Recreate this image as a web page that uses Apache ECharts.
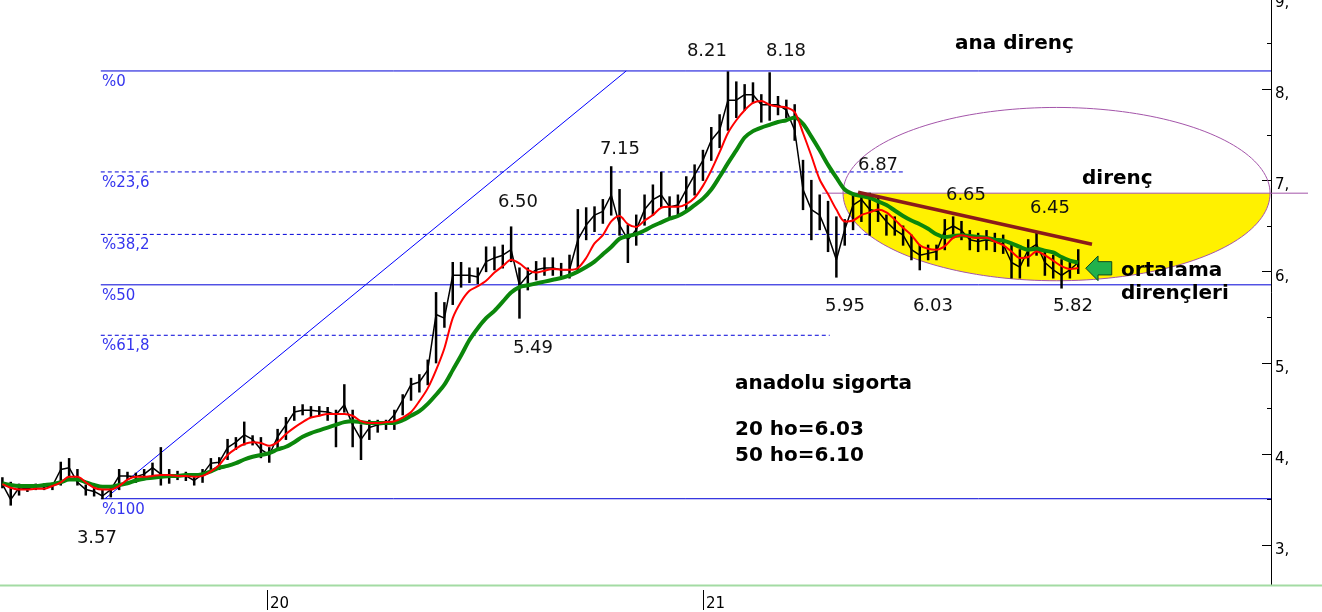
<!DOCTYPE html>
<html><head><meta charset="utf-8">
<script src="https://cdn.jsdelivr.net/npm/echarts@6/dist/echarts.min.js"></script>
<style>html,body{margin:0;padding:0;background:#fff}#c{width:1322px;height:612px}</style>
</head><body><div id="c"></div>
<script>
// ---- data (weekly samples) ----
const weekStart = [2019, 4, 24];           // first weekly sample (Fri 24 May 2019)
const priceHigh = [
3.74,3.69,3.67,3.66,3.67,3.67,3.68,3.91,3.95,3.83,
3.66,3.64,3.61,3.63,3.83,3.80,3.79,3.83,3.90,4.07,
3.83,3.81,3.80,3.76,3.83,3.95,3.96,4.16,4.18,4.35,
4.20,4.18,4.07,4.27,4.40,4.52,4.54,4.52,4.52,4.51,
4.48,4.76,4.48,4.32,4.37,4.37,4.37,4.48,4.65,4.83,
4.87,5.03,5.77,5.66,6.10,6.10,6.04,6.04,6.27,6.27,
6.29,6.49,6.04,6.04,6.11,6.15,6.15,6.09,6.18,6.68,
6.70,6.71,6.79,7.15,6.90,6.51,6.62,6.84,6.95,7.09,
6.82,6.84,7.04,7.17,7.33,7.58,7.72,8.19,8.08,8.05,
8.07,7.94,8.18,7.92,7.88,7.83,7.22,7.00,6.84,6.77,
6.60,6.57,6.86,6.86,6.86,6.82,6.62,6.60,6.50,6.40,
6.29,6.29,6.29,6.57,6.60,6.55,6.45,6.42,6.45,6.42,
6.40,6.29,6.24,6.35,6.43,6.24,6.18,6.13,6.10,6.24];
const priceLow = [
3.63,3.44,3.55,3.59,3.61,3.61,3.61,3.66,3.74,3.66,
3.55,3.54,3.51,3.53,3.61,3.72,3.69,3.72,3.74,3.66,
3.68,3.72,3.71,3.66,3.69,3.80,3.83,3.94,4.05,4.10,
4.10,3.96,3.91,4.07,4.16,4.37,4.43,4.41,4.42,4.37,
4.08,4.46,4.08,3.94,4.16,4.24,4.27,4.27,4.43,4.59,
4.68,4.76,5.00,5.39,5.64,5.83,5.88,5.87,6.00,6.02,
6.04,6.11,5.49,5.80,5.91,5.96,5.96,5.94,5.93,6.02,
6.35,6.44,6.53,6.62,6.40,6.10,6.29,6.51,6.62,6.71,
6.60,6.62,6.68,6.84,7.00,7.22,7.36,7.55,7.69,7.77,
7.85,7.64,7.66,7.72,7.69,7.44,6.68,6.35,6.46,6.22,
5.94,6.29,6.46,6.55,6.40,6.55,6.40,6.40,6.29,6.13,
6.02,6.13,6.13,6.24,6.37,6.35,6.24,6.22,6.24,6.22,
6.20,5.93,5.93,6.06,6.18,5.96,5.93,5.82,5.93,5.98];
const priceClose = [
3.67,3.50,3.63,3.62,3.64,3.64,3.65,3.83,3.85,3.69,
3.61,3.59,3.54,3.61,3.76,3.76,3.75,3.78,3.85,3.78,
3.75,3.76,3.76,3.71,3.78,3.90,3.91,4.07,4.13,4.21,
4.16,4.05,3.99,4.19,4.32,4.46,4.48,4.48,4.47,4.46,
4.43,4.54,4.32,4.16,4.29,4.32,4.33,4.43,4.59,4.76,
4.79,4.92,5.53,5.49,5.96,5.96,5.96,5.94,6.11,6.15,
6.18,6.24,5.85,5.96,6.02,6.04,6.04,6.02,6.02,6.35,
6.51,6.62,6.66,6.84,6.51,6.35,6.46,6.68,6.79,6.84,
6.71,6.73,6.90,7.06,7.22,7.44,7.55,7.88,7.88,7.94,
7.94,7.83,7.83,7.83,7.77,7.55,6.90,6.68,6.62,6.40,
6.13,6.46,6.73,6.79,6.68,6.66,6.55,6.46,6.40,6.24,
6.18,6.20,6.22,6.45,6.50,6.45,6.35,6.33,6.35,6.33,
6.30,6.10,6.05,6.24,6.30,6.10,6.02,5.96,6.02,6.10];
const ma20 = [
3.67,3.63,3.61,3.61,3.62,3.62,3.65,3.69,3.75,3.75,
3.69,3.63,3.61,3.61,3.65,3.72,3.75,3.75,3.76,3.77,
3.77,3.76,3.76,3.75,3.76,3.81,3.88,3.99,4.06,4.11,
4.13,4.12,4.09,4.13,4.22,4.29,4.35,4.40,4.42,4.44,
4.44,4.44,4.42,4.36,4.34,4.34,4.35,4.36,4.40,4.46,
4.58,4.72,4.92,5.16,5.49,5.67,5.79,5.84,5.90,5.99,
6.06,6.13,6.09,6.02,5.99,6.01,6.03,6.02,6.02,6.04,
6.15,6.31,6.40,6.55,6.61,6.52,6.49,6.56,6.62,6.70,
6.71,6.71,6.74,6.81,6.94,7.11,7.31,7.52,7.66,7.77,
7.85,7.87,7.83,7.81,7.80,7.75,7.52,7.27,7.01,6.85,
6.68,6.55,6.56,6.62,6.65,6.68,6.65,6.57,6.48,6.40,
6.29,6.25,6.24,6.28,6.37,6.40,6.38,6.37,6.37,6.33,
6.29,6.22,6.15,6.16,6.22,6.18,6.12,6.06,6.03,6.04];
const ma50 = [
3.68,3.66,3.65,3.65,3.65,3.66,3.67,3.69,3.72,3.72,
3.69,3.66,3.64,3.64,3.66,3.68,3.71,3.73,3.74,3.75,
3.76,3.76,3.77,3.77,3.78,3.81,3.85,3.87,3.90,3.94,
3.97,3.99,4.01,4.05,4.08,4.13,4.19,4.23,4.26,4.29,
4.32,4.35,4.36,4.35,4.34,4.34,4.34,4.34,4.37,4.42,
4.47,4.55,4.65,4.76,4.92,5.08,5.25,5.38,5.49,5.57,
5.67,5.77,5.83,5.85,5.87,5.89,5.91,5.93,5.96,6.00,
6.05,6.11,6.19,6.27,6.36,6.39,6.41,6.45,6.50,6.54,
6.58,6.61,6.66,6.73,6.80,6.90,7.04,7.19,7.33,7.47,
7.54,7.58,7.61,7.64,7.66,7.69,7.62,7.48,7.33,7.17,
7.03,6.90,6.85,6.83,6.81,6.77,6.73,6.67,6.61,6.56,
6.52,6.47,6.41,6.38,6.39,6.40,6.39,6.38,6.37,6.35,
6.34,6.31,6.27,6.24,6.25,6.23,6.21,6.16,6.12,6.10];

const yTicks = [3,4,5,6,7,8,9];
const yMinorTicks = [3.5,4.5,5.5,6.5,7.5,8.5];
const xYearTicks = [2020, 2021];
const xRange = [[2019,4,22,0], [2022,3,22,19]];

// Fibonacci retracement (levels, names, start / end in week units; null = to axis end)
const fibLevels = [8.20, 7.093, 6.408, 5.855, 5.302, 3.51];
const fibNames  = ['%0','%23,6','%38,2','%50','%61,8','%100'];
const fibDashed = [false, true, true, false, true, false];
const fibStartWeek = 11.8;
const fibEndWeek = [null, 108.0, 108.0, null, 99.2, null];
const fibLabelWeek = 11.94;
const fibDiagonal = [[12.3, 3.51], [74.8, 8.20]];
// falling resistance line
const trendLine = [[102.6, 6.87], [130.65, 6.30]];
// horizontal resistance + ellipse
const resistLevel = 6.86;
const resistStartWeek = 98.3;
const ellipseBox = {left: 100.8, right: 152.0, top: 7.80, bottom: 5.90};
const arrowTip = [129.9, 6.037];

// price notes [text, week, value]
const priceNotes = [
  ['8.21', 84.48, 8.413], ['8.18', 93.96, 8.413], ['7.15', 74.05, 7.339],
  ['6.50', 61.82, 6.758], ['5.49', 63.62, 5.157], ['3.57', 11.34, 3.073],
  ['6.87', 104.99, 7.163], ['6.65', 115.54, 6.834], ['6.45', 125.61, 6.692],
  ['5.95', 101.03, 5.617], ['6.03', 111.58, 5.617], ['5.82', 128.37, 5.617]
];
// bold notes [text, week (left edge), value]
const boldNotes = [
  ['ana direnç', 114.22, 8.497], ['direnç', 129.45, 7.016],
  ['ortalama', 134.12, 6.008], ['dirençleri', 134.12, 5.755],
  ['anadolu sigorta', 87.84, 4.769], ['20 ho=6.03', 87.84, 4.264], ['50 ho=6.10', 87.84, 3.979]
];

// ---- build ----
const DAY = 86400000, WEEK = 7 * DAY;
const t0 = Date.UTC(weekStart[0], weekStart[1], weekStart[2]);
const wt = w => t0 + w * WEEK;
const weeks = priceHigh.map((_, i) => wt(i));
const xMin = Date.UTC(...xRange[0]), xMax = Date.UTC(...xRange[1]);
const FONT = '"DejaVu Sans", Verdana, sans-serif';

const series = [];
fibLevels.forEach((lv, k) => {
  series.push({
    type: 'line', silent: true, symbol: 'none', z: 0,
    data: [[wt(fibStartWeek), lv], [fibEndWeek[k] === null ? xMax : wt(fibEndWeek[k]), lv]],
    lineStyle: {color: '#0000d8', width: 1, type: fibDashed[k] ? [4, 3] : 'solid'}
  });
});
series.push({
  type: 'line', silent: true, symbol: 'none', z: 0,
  data: fibDiagonal.map(p => [wt(p[0]), p[1]]),
  lineStyle: {color: '#0000ff', width: 1}
});
// weekly high-low bars
series.push({
  type: 'custom', silent: true, z: 3,
  data: weeks.map((t, i) => [t, priceLow[i], priceHigh[i]]),
  encode: {x: 0, y: [1, 2]},
  renderItem: (params, api) => {
    const t = api.value(0);
    const a = api.coord([t, api.value(1)]);
    const b = api.coord([t, api.value(2)]);
    return {type: 'line', shape: {x1: a[0], y1: a[1] + 0.5, x2: b[0], y2: b[1] - 0.5},
            style: {stroke: '#000', lineWidth: 2.5}};
  }
});
series.push({
  type: 'line', silent: true, symbol: 'none', z: 3,
  data: weeks.map((t, i) => [t, priceClose[i]]),
  lineStyle: {color: '#000', width: 1.5}
});
series.push({
  type: 'line', silent: true, symbol: 'none', z: 4, smooth: 0.3,
  data: weeks.map((t, i) => [t, ma50[i]]),
  lineStyle: {color: '#0b870b', width: 4}
});
series.push({
  type: 'line', silent: true, symbol: 'none', z: 4, smooth: 0.3,
  data: weeks.map((t, i) => [t, ma20[i]]),
  lineStyle: {color: '#ff0000', width: 2}
});
series.push({
  type: 'line', silent: true, symbol: 'none', z: 5,
  data: trendLine.map(p => [wt(p[0]), p[1]]),
  lineStyle: {color: '#8b1a1a', width: 3.5}
});

const yearTs = xYearTicks.map(y => Date.UTC(y, 0, 1));
const option = {
  animation: false,
  backgroundColor: '#fff',
  grid: {left: 0, right: 51, top: -2, bottom: 27, containLabel: false, outerBoundsMode: 'none'},
  xAxis: [
    {type: 'value', min: xMin, max: xMax, axisLine: {show: false}, axisTick: {show: false},
     axisLabel: {show: false}, splitLine: {show: false}},
    {type: 'value', min: xMin, max: xMax, position: 'bottom', offset: 5,
     axisLine: {show: false}, splitLine: {show: false},
     axisTick: {show: true, length: 20, lineStyle: {color: '#000', width: 1}, customValues: yearTs},
     axisLabel: {show: true, customValues: yearTs,
                 formatter: v => String(new Date(v).getUTCFullYear()).slice(2),
                 align: 'left', padding: [0, 0, 0, 3], margin: 7,
                 color: '#000', fontFamily: FONT, fontSize: 15}}
  ],
  yAxis: [
    {type: 'value', position: 'right', min: 2.564, max: 9,
     axisLine: {show: true, lineStyle: {color: '#000', width: 1}},
     axisTick: {show: true, inside: true, length: 9, customValues: yTicks, lineStyle: {color: '#000'}},
     axisLabel: {show: true, customValues: yTicks, formatter: v => v + ',', margin: 4,
                 color: '#000', fontFamily: FONT, fontSize: 15, verticalAlign: 'top', lineHeight: 10},
     splitLine: {show: false}},
    {type: 'value', position: 'right', min: 2.564, max: 9,
     axisLine: {show: false}, axisLabel: {show: false}, splitLine: {show: false},
     axisTick: {show: true, inside: true, length: 4, customValues: yMinorTicks, lineStyle: {color: '#000'}}}
  ],
  series: series
};

const chart = echarts.init(document.getElementById('c'), null, {renderer: 'canvas'});
chart.setOption(option);

// ---- annotations placed from data coordinates ----
const P = (w, v) => chart.convertToPixel({xAxisIndex: 0, yAxisIndex: 0}, [wt(w), v]);
const axisRight = chart.convertToPixel({xAxisIndex: 0}, xMax);
const els = [];

const L = P(ellipseBox.left, resistLevel), R = P(ellipseBox.right, resistLevel);
const cx = (L[0] + R[0]) / 2, rx = (R[0] - L[0]) / 2, cy = L[1];
const ryU = cy - P(0, ellipseBox.top)[1], ryD = P(0, ellipseBox.bottom)[1] - cy;
const N = 90, lower = [], upper = [];
for (let k = 0; k <= N; k++) {
  const a = Math.PI * k / N;
  lower.push([cx + rx * Math.cos(a), cy + ryD * Math.sin(a)]);
  upper.push([cx - rx * Math.cos(a), cy - ryU * Math.sin(a)]);
}
els.push({type: 'polygon', z: 1, z2: 0, silent: true, shape: {points: lower},
          style: {fill: '#fff100'}});
els.push({type: 'polyline', z: 1, z2: 2, silent: true, shape: {points: lower.concat(upper)},
          style: {stroke: '#a455aa', lineWidth: 1, fill: null}});
const rs = P(resistStartWeek, resistLevel);
els.push({type: 'line', z: 1, z2: 3, silent: true,
          shape: {x1: rs[0], y1: cy, x2: axisRight + 37, y2: cy},
          style: {stroke: '#a455aa', lineWidth: 1}});

const yBottom = P(0, 2.564)[1];
els.push({type: 'line', z: 1, silent: true, shape: {x1: 0, y1: yBottom + 0.5, x2: 1322, y2: yBottom + 0.5},
          style: {stroke: '#a3dba3', lineWidth: 2}});

fibLevels.forEach((lv, k) => {
  const p = P(fibLabelWeek, lv);
  els.push({type: 'text', z: 6, silent: true, x: p[0], y: p[1] + 11,
            style: {text: fibNames[k], fill: '#3535ee', font: '15px ' + FONT,
                    textAlign: 'left', textVerticalAlign: 'middle'}});
});
priceNotes.forEach(n => {
  const p = P(n[1], n[2]);
  els.push({type: 'text', z: 6, silent: true, x: p[0], y: p[1],
            style: {text: n[0], fill: '#111', font: '18px ' + FONT,
                    textAlign: 'center', textVerticalAlign: 'middle'}});
});
boldNotes.forEach(n => {
  const p = P(n[1], n[2]);
  els.push({type: 'text', z: 6, silent: true, x: p[0], y: p[1],
            style: {text: n[0], fill: '#000', font: 'bold 20px ' + FONT,
                    textAlign: 'left', textVerticalAlign: 'middle'}});
});
const at = P(arrowTip[0], arrowTip[1]);
const arr = [[0,0],[12.3,-12.3],[12.3,-6.6],[26,-6.6],[26,6.7],[12.3,6.7],[12.3,12.4]]
  .map(q => [at[0] + q[0], at[1] + q[1]]);
els.push({type: 'polygon', z: 6, silent: true, shape: {points: arr},
          style: {fill: '#22b14c', stroke: '#0d4a1c', lineWidth: 1}});

chart.setOption({graphic: {elements: els}});
</script>
</body></html>
